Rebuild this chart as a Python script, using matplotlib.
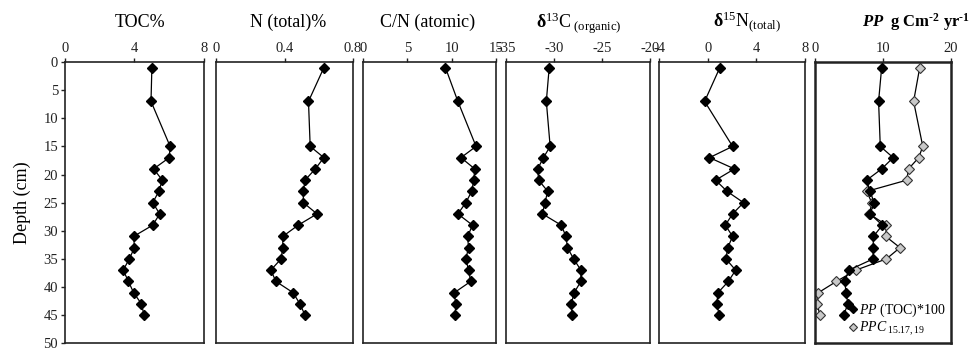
import matplotlib
matplotlib.use("Agg")
import matplotlib.pyplot as plt
from matplotlib.lines import Line2D

plt.rcParams['font.family'] = ['Liberation Serif', 'DejaVu Serif']
plt.rcParams['mathtext.fontset'] = 'custom'
plt.rcParams['mathtext.rm'] = 'Liberation Serif'
plt.rcParams['mathtext.it'] = 'Liberation Serif:italic'
plt.rcParams['mathtext.bf'] = 'Liberation Serif:bold'
plt.rcParams['mathtext.bfit'] = 'Liberation Serif:bold:italic'
plt.rcParams['axes.unicode_minus'] = False

# sample depths (cm)
depth = [1, 7, 15, 17, 19, 21, 23, 25, 27, 29, 31, 33, 35, 37, 39, 41, 43, 45]

toc = [5.0, 4.95, 6.05, 6.0, 5.1, 5.6, 5.4, 5.05, 5.45, 5.05, 3.95, 4.0, 3.7, 3.35, 3.65, 3.95, 4.4, 4.55]
n_total = [0.63, 0.54, 0.55, 0.63, 0.58, 0.52, 0.51, 0.51, 0.59, 0.48, 0.39, 0.39, 0.38, 0.32, 0.35, 0.45, 0.49, 0.52]
cn_atomic = [9.3, 10.7, 12.75, 11.05, 12.6, 12.5, 12.25, 11.6, 10.7, 12.35, 11.8, 11.9, 11.6, 11.9, 12.15, 10.3, 10.45, 10.4]
d13c = [-30.5, -30.8, -30.4, -31.1, -31.7, -31.6, -30.65, -30.95, -31.2, -29.25, -28.75, -28.6, -27.95, -27.2, -27.2, -27.9, -28.2, -28.1]
d15n = [1.0, -0.25, 2.05, 0.15, 2.2, 0.65, 1.6, 2.95, 2.05, 1.45, 2.05, 1.65, 1.5, 2.3, 1.7, 0.85, 0.75, 0.95]
pp_toc = [9.8, 9.35, 9.6, 11.5, 9.8, 7.6, 8.1, 8.7, 8.1, 9.9, 8.6, 8.55, 8.55, 4.95, 4.4, 4.55, 4.85, 4.2]
pp_c = [15.4, 14.5, 15.85, 15.25, 13.75, 13.5, 7.6, 8.35, 8.0, 10.5, 10.4, 12.5, 10.5, 6.0, 3.15, 0.5, 0.35, 0.7]

titles = ['TOC%', 'N (total)%', 'C/N (atomic)',
          r'$\mathbf{\delta}^{13}$C$_{\ \mathrm{(organic)}}$',
          r'$\mathbf{\delta}^{15}$N$_{\mathrm{(total)}}$',
          r'$\mathbfit{PP}$  $\mathbf{g\ Cm^{\text{-}2}\ yr^{\text{-}1}}$']
title_x = [140, 288, 428, 579, 747, 916]
title_size = [13, 13, 13, 13, 13, 12]
xlims = [(0, 8), (0, 0.8), (0, 15), (-35, -20), (-4, 8), (0, 20)]
xticks = [[0, 4, 8], [0, 0.4, 0.8], [0, 5, 10, 15], [-35, -30, -25, -20], [-4, 0, 4, 8], [0, 10, 20]]
xticklabels = [['0', '4', '8'], ['0', '0.4', '0.8'], ['0', '5', '10', '15'],
               ['-35', '-30', '-25', '-20'], ['-4', '0', '4', '8'], ['0', '10', '20']]
series = [toc, n_total, cn_atomic, d13c, d15n, pp_toc]

# panel left/right edges in pixels
edges = [(65, 204), (216, 353), (363, 496), (506, 650), (659, 805), (815, 951)]

W, H = 970, 348
fig = plt.figure(figsize=(W / 100, H / 100), dpi=100)
top_px, bot_px = 62, 343.3

axes = []
for i, (l, r) in enumerate(edges):
    ax = fig.add_axes([l / W, 1 - bot_px / H, (r - l) / W, (bot_px - top_px) / H])
    ax.plot(series[i], depth, color='black', lw=0.9, marker='D', ms=5,
            mfc='black', mec='black', zorder=3)
    ax.set_xlim(*xlims[i])
    ax.set_ylim(50, 0)
    ax.xaxis.tick_top()
    ax.set_xticks(xticks[i])
    ax.set_xticklabels(xticklabels[i])
    ax.tick_params(axis='x', direction='out', length=3, width=1, pad=2, labelsize=10.5, colors='#222222')
    for s in ax.spines.values():
        s.set_linewidth(1.8 if i == 5 else 1.2)
        s.set_color('#222222')
    if i == 0:
        ax.set_yticks(range(0, 51, 5))
        ax.tick_params(axis='y', direction='out', length=3, width=1, pad=2, labelsize=10.5, colors='#222222')
        ax.set_ylabel('Depth (cm)', fontsize=13, labelpad=9)
    else:
        ax.set_yticks([])
    fig.text(title_x[i] / W, 1 - 27 / H, titles[i], ha='center', va='baseline', fontsize=title_size[i])
    axes.append(ax)

ax6 = axes[5]
ax6.plot(pp_c, depth, color='black', lw=0.9, marker='D', ms=5,
         mfc='#c8c8c8', mec='#333333', mew=0.8, zorder=2)

handles = [Line2D([], [], ls='none', marker='D', ms=4, mfc='black', mec='black'),
           Line2D([], [], ls='none', marker='D', ms=4, mfc='#c8c8c8', mec='#333333', mew=0.8)]
labels = [r'$\it{PP}$ (TOC)*100', r'$\it{PPC}$$_{\ \mathrm{15.17,19}}$']
ax6.legend(handles, labels, loc='lower right', bbox_to_anchor=(1.02, -0.01), frameon=False,
           fontsize=10, handlelength=0.5, handletextpad=0.15, labelspacing=0.05, borderpad=0.1)

fig.savefig('out.png', dpi=100)
